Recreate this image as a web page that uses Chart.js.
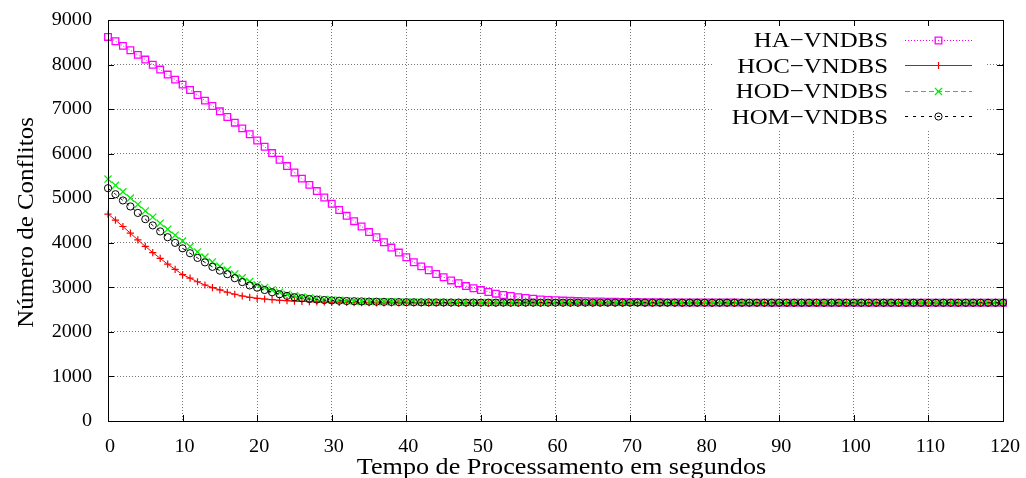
<!DOCTYPE html>
<html>
<head>
<meta charset="utf-8">
<title>Número de Conflitos</title>
<script src="https://cdn.jsdelivr.net/npm/chart.js"></script>
<style>
  body { margin: 0; background: #fff; }
  canvas { display: block; }
</style>
</head>
<body>
<canvas id="grafico" width="1026" height="478"></canvas>
<script>
/* Dados (um ponto por segundo, 0..120) --------------------------------------------------- */
const nomes = ['HA\u2212VNDBS', 'HOC\u2212VNDBS', 'HOD\u2212VNDBS', 'HOM\u2212VNDBS'];

const haVndbs = [
  8620, 8524, 8419, 8321, 8217, 8112, 7995, 7887, 7775, 7662,
  7550, 7430, 7317, 7190, 7070, 6950, 6823, 6695, 6568, 6435,
  6295, 6155, 6013, 5863, 5721, 5578, 5440, 5300, 5160, 5016,
  4875, 4735, 4605, 4485, 4365, 4240, 4125, 4012, 3892, 3780,
  3675, 3563, 3470, 3383, 3300, 3226, 3155, 3091, 3028, 2979,
  2938, 2896, 2858, 2828, 2805, 2780, 2760, 2745, 2730, 2718,
  2710, 2703, 2697, 2692, 2688, 2684, 2681, 2678, 2675, 2673,
  2671, 2669, 2667, 2665, 2664, 2663, 2662, 2661, 2660, 2660,
  2659, 2659, 2658, 2658, 2658, 2657, 2657, 2657, 2657, 2656,
  2656, 2656, 2656, 2656, 2656, 2656, 2655, 2655, 2655, 2655,
  2655, 2655, 2655, 2655, 2655, 2655, 2655, 2655, 2655, 2655,
  2655, 2655, 2655, 2655, 2655, 2655, 2655, 2655, 2655, 2655,
  2655
];

const hocVndbs = [
  4645, 4510, 4365, 4215, 4065, 3920, 3780, 3650, 3520, 3405,
  3285, 3205, 3125, 3052, 2995, 2945, 2890, 2845, 2806, 2776,
  2754, 2738, 2724, 2710, 2700, 2692, 2686, 2680, 2675, 2671,
  2667, 2664, 2661, 2659, 2657, 2655, 2653, 2652, 2651, 2650,
  2649, 2649, 2648, 2648, 2648, 2647, 2647, 2647, 2647, 2646,
  2646, 2646, 2646, 2646, 2646, 2646, 2646, 2646, 2646, 2646,
  2646, 2646, 2646, 2646, 2646, 2646, 2646, 2646, 2646, 2646,
  2645, 2645, 2645, 2645, 2645, 2645, 2645, 2645, 2645, 2645,
  2645, 2645, 2645, 2645, 2645, 2645, 2645, 2645, 2645, 2645,
  2645, 2645, 2645, 2645, 2645, 2645, 2645, 2645, 2645, 2645,
  2645, 2645, 2645, 2645, 2645, 2645, 2645, 2645, 2645, 2645,
  2645, 2645, 2645, 2645, 2645, 2645, 2645, 2645, 2645, 2645,
  2645
];

const hodVndbs = [
  5430, 5290, 5145, 5005, 4860, 4715, 4575, 4440, 4305, 4170,
  4040, 3915, 3795, 3680, 3570, 3475, 3390, 3300, 3215, 3130,
  3058, 2998, 2942, 2890, 2846, 2811, 2783, 2761, 2745, 2730,
  2718, 2709, 2701, 2694, 2689, 2685, 2681, 2678, 2675, 2673,
  2671, 2669, 2667, 2666, 2665, 2664, 2663, 2662, 2661, 2661,
  2660, 2660, 2660, 2660, 2660, 2660, 2660, 2660, 2660, 2660,
  2660, 2660, 2659, 2659, 2659, 2659, 2659, 2659, 2659, 2659,
  2659, 2659, 2659, 2659, 2659, 2659, 2659, 2659, 2659, 2659,
  2658, 2658, 2658, 2658, 2658, 2658, 2658, 2658, 2658, 2658,
  2658, 2658, 2658, 2658, 2658, 2658, 2658, 2658, 2658, 2658,
  2658, 2658, 2658, 2658, 2658, 2658, 2658, 2658, 2658, 2658,
  2658, 2658, 2658, 2658, 2658, 2658, 2658, 2658, 2658, 2658,
  2658
];

const homVndbs = [
  5225, 5090, 4950, 4815, 4670, 4530, 4390, 4255, 4125, 3998,
  3875, 3765, 3660, 3560, 3460, 3375, 3295, 3205, 3118, 3042,
  2992, 2940, 2890, 2845, 2808, 2778, 2755, 2738, 2725, 2715,
  2706, 2699, 2693, 2688, 2684, 2680, 2677, 2674, 2671, 2669,
  2667, 2665, 2664, 2663, 2662, 2661, 2660, 2659, 2658, 2658,
  2657, 2657, 2657, 2657, 2657, 2657, 2657, 2657, 2657, 2657,
  2657, 2656, 2656, 2656, 2656, 2656, 2656, 2656, 2656, 2656,
  2656, 2656, 2656, 2656, 2656, 2656, 2656, 2656, 2656, 2656,
  2655, 2655, 2655, 2655, 2655, 2655, 2655, 2655, 2655, 2655,
  2655, 2655, 2655, 2655, 2655, 2655, 2655, 2655, 2655, 2655,
  2655, 2655, 2655, 2655, 2655, 2655, 2655, 2655, 2655, 2655,
  2655, 2655, 2655, 2655, 2655, 2655, 2655, 2655, 2655, 2655,
  2655
];

const xMax = 120, xPasso = 10;
const yMax = 9000, yPasso = 1000;
const tituloX = 'Tempo de Processamento em segundos';
const tituloY = 'Número de Conflitos';

/* Helpers ------------------------------------------------------------------------------ */
const pontos = (serie) => serie.map((v, i) => ({x: i, y: v}));
const fonte = (px) => px + 'px "Liberation Serif", "Times New Roman", serif';

function textoEsticado(ctx, txt, x, y, sx, align) {
  ctx.save();
  ctx.translate(x, y);
  ctx.scale(sx, 1);
  ctx.textAlign = align;
  ctx.fillText(txt, 0, 0);
  ctx.restore();
}

function marcador(ctx, estilo, r, x, y, cor, w) {
  ctx.save();
  ctx.setLineDash([]);
  ctx.strokeStyle = cor;
  ctx.lineWidth = w;
  ctx.beginPath();
  if (estilo === 'rect') {
    const s = r * Math.SQRT1_2;
    ctx.rect(x - s, y - s, 2 * s, 2 * s);
  } else if (estilo === 'cross') {
    ctx.moveTo(x - r, y); ctx.lineTo(x + r, y);
    ctx.moveTo(x, y - r); ctx.lineTo(x, y + r);
  } else if (estilo === 'crossRot') {
    const d = r * Math.SQRT1_2;
    ctx.moveTo(x - d, y - d); ctx.lineTo(x + d, y + d);
    ctx.moveTo(x - d, y + d); ctx.lineTo(x + d, y - d);
  } else {
    ctx.arc(x, y, r, 0, Math.PI * 2);
  }
  ctx.stroke();
  ctx.restore();
}

/* Moldura, ticks, rótulos e legenda no estilo gnuplot --------------------------------- */
const estiloGnuplot = {
  id: 'estiloGnuplot',
  afterDatasetsDraw(chart) {
    const {ctx, chartArea: a, scales: {x, y}} = chart;
    ctx.save();

    // fundo da legenda apaga a grade
    ctx.fillStyle = '#fff';
    ctx.fillRect(712, a.top + 1, 275, 109);

    // moldura
    ctx.setLineDash([]);
    ctx.strokeStyle = '#000';
    ctx.lineWidth = 1;
    ctx.strokeRect(a.left + 0.5, a.top + 0.5, a.right - a.left, a.bottom - a.top);

    // ticks para dentro, nos quatro lados
    ctx.beginPath();
    x.ticks.forEach(t => {
      const px = Math.round(x.getPixelForValue(t.value)) + 0.5;
      ctx.moveTo(px, a.bottom); ctx.lineTo(px, a.bottom - 6);
      ctx.moveTo(px, a.top); ctx.lineTo(px, a.top + 6);
    });
    y.ticks.forEach(t => {
      const py = Math.round(y.getPixelForValue(t.value)) + 0.5;
      ctx.moveTo(a.left, py); ctx.lineTo(a.left + 6, py);
      ctx.moveTo(a.right, py); ctx.lineTo(a.right - 6, py);
    });
    ctx.stroke();

    // rótulos dos ticks
    ctx.fillStyle = '#000';
    ctx.font = fonte(18);
    ctx.textBaseline = 'middle';
    x.ticks.forEach(t => {
      textoEsticado(ctx, String(t.value), x.getPixelForValue(t.value) + 2, 447.5, 1.12, 'center');
    });
    y.ticks.forEach(t => {
      textoEsticado(ctx, String(t.value), a.left - 16, y.getPixelForValue(t.value) + 0.5, 1.12, 'right');
    });

    // títulos dos eixos
    ctx.textBaseline = 'alphabetic';
    ctx.font = fonte(24);
    textoEsticado(ctx, tituloX, (a.left + a.right) / 2 + 6, 474, 1.09, 'center');
    ctx.save();
    ctx.translate(33, 222.5);
    ctx.rotate(-Math.PI / 2);
    ctx.scale(1.04, 1);
    ctx.textAlign = 'center';
    ctx.fillText(tituloY, 0, 0);
    ctx.restore();

    // legenda
    ctx.font = fonte(22);
    chart.data.datasets.forEach((ds, i) => {
      const cy = 39.5 + i * 25.5;
      ctx.fillStyle = '#000';
      textoEsticado(ctx, ds.label, 888, cy + 7.5, 1.13, 'right');
      ctx.save();
      ctx.strokeStyle = ds.borderColor;
      ctx.lineWidth = 1;
      ctx.setLineDash(ds.borderDash || []);
      ctx.beginPath();
      ctx.moveTo(905, Math.round(cy) + 0.5);
      ctx.lineTo(972, Math.round(cy) + 0.5);
      ctx.stroke();
      ctx.restore();
      marcador(ctx, ds.pointStyle, ds.pointRadius, 938.5, Math.round(cy) + 0.5, ds.pointBorderColor, ds.pointBorderWidth);
    });

    ctx.restore();
  }
};

/* Gráfico ------------------------------------------------------------------------------ */
const data = {
  datasets: [
    {
      label: nomes[0], data: pontos(haVndbs),
      borderColor: '#ff00ff', borderWidth: 1, borderDash: [1, 2],
      pointStyle: 'rect', pointRadius: 4.7, pointBorderWidth: 1.3,
      pointBorderColor: '#ff00ff', pointBackgroundColor: 'rgba(0,0,0,0)',
      order: 3, clip: false
    },
    {
      label: nomes[1], data: pontos(hocVndbs),
      borderColor: '#ff0000', borderWidth: 1, borderDash: [],
      pointStyle: 'cross', pointRadius: 3.6, pointBorderWidth: 1.2,
      pointBorderColor: '#ff0000', pointBackgroundColor: 'rgba(0,0,0,0)',
      order: 2, clip: false
    },
    {
      label: nomes[2], data: pontos(hodVndbs),
      borderColor: '#00ee00', borderWidth: 1, borderDash: [5, 3],
      pointStyle: 'crossRot', pointRadius: 5, pointBorderWidth: 1.2,
      pointBorderColor: '#00ee00', pointBackgroundColor: 'rgba(0,0,0,0)',
      order: 1, clip: false
    },
    {
      label: nomes[3], data: pontos(homVndbs),
      borderColor: '#000000', borderWidth: 1, borderDash: [3, 5],
      pointStyle: 'circle', pointRadius: 3.6, pointBorderWidth: 1,
      pointBorderColor: '#000000', pointBackgroundColor: 'rgba(0,0,0,0)',
      order: 0, clip: false
    }
  ]
};

const config = {
  type: 'line',
  data: data,
  options: {
    responsive: false,
    animation: false,
    devicePixelRatio: 1,
    layout: { padding: { left: 108, right: 23, top: 20, bottom: 57 } },
    plugins: {
      legend: { display: false },
      tooltip: { enabled: false }
    },
    scales: {
      x: {
        type: 'linear', min: 0, max: xMax,
        ticks: { stepSize: xPasso, display: false },
        grid: { color: '#777', drawTicks: false },
        border: { display: false, dash: [1, 2] },
        afterFit: (s) => { s.height = 0; }
      },
      y: {
        type: 'linear', min: 0, max: yMax,
        ticks: { stepSize: yPasso, display: false },
        grid: { color: '#777', drawTicks: false },
        border: { display: false, dash: [1, 2] },
        afterFit: (s) => { s.width = 0; }
      }
    }
  },
  plugins: [estiloGnuplot]
};

let grafico = new Chart(document.getElementById('grafico'), config);
</script>
</body>
</html>
